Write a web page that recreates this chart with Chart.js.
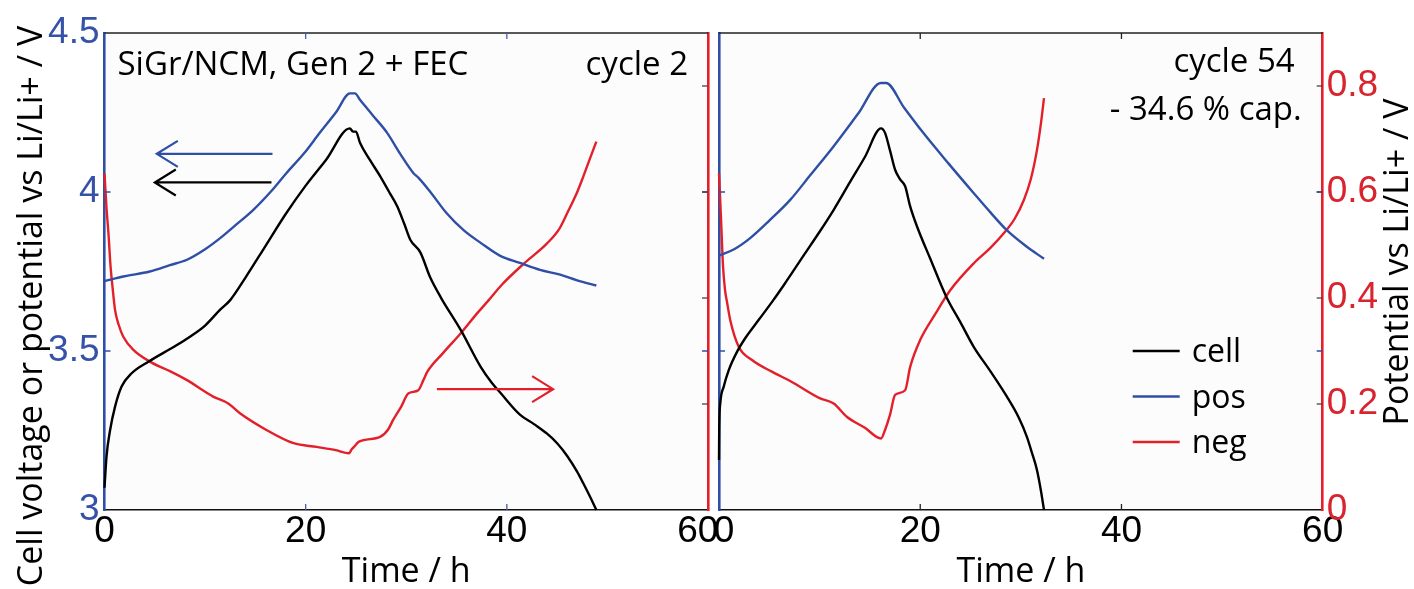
<!DOCTYPE html>
<html><head><meta charset="utf-8">
<script src="https://cdn.jsdelivr.net/npm/chart.js@4.4.1/dist/chart.umd.min.js"></script>
<style>
html,body{margin:0;padding:0;background:#fff;width:1414px;height:589px;overflow:hidden;}
#w{position:relative;width:1414px;height:589px;}
.p{position:absolute;top:0;height:589px;}
</style></head><body><div id="w">
<div class="p" style="left:0;width:740px"><canvas id="c1" width="740" height="589"></canvas></div>
<div class="p" style="left:690px;width:724px"><canvas id="c2" width="724" height="589"></canvas></div>
</div>
<script>
// ---- tick values and labels ----
const xTickValues = [0, 20, 40, 60];
const leftPanelXLabels = ['0', '20', '40', '60  '];
const rightPanelXLabels = [' 0', '20', '40', '60'];
const leftTickValues = [3, 3.5, 4, 4.5];
const leftTickLabels = ['3', '3.5', '4', '4.5'];
const rightTickValues = [0, 0.2, 0.4, 0.6, 0.8];
const rightTickLabels = ['0', '0.2', '0.4', '0.6', '0.8'];
const seriesNames = ['cell', 'pos', 'neg'];

// ---- cycle 2 (left panel) ----
const c2CellT = [0, 0.2, 0.55, 1.05, 1.7, 2.7, 4.4, 7, 8.5, 10, 11.5, 12.5, 14, 16, 18, 20, 22, 24.4, 24.7, 25, 25.4, 26.4, 27.4, 28.3, 29.1, 29.8, 30.4, 31.4, 32.4, 33.5, 35.4, 37.4, 38.5, 39.4, 41.3, 42.7, 44, 45, 46, 47, 47.6, 48.3, 48.9];
const c2CellV = [3.07, 3.168, 3.25, 3.325, 3.388, 3.43, 3.467, 3.515, 3.545, 3.58, 3.63, 3.66, 3.73, 3.83, 3.93, 4.02, 4.10, 4.20, 4.19, 4.19, 4.155, 4.10, 4.05, 4.0, 3.955, 3.90, 3.85, 3.81, 3.73, 3.665, 3.567, 3.45, 3.40, 3.367, 3.30, 3.27, 3.24, 3.21, 3.17, 3.12, 3.084, 3.04, 3.0];
const c2PosT = [0, 2, 4.5, 6.5, 8.2, 10, 11.5, 13, 14.8, 16.5, 18.1, 19.8, 21.4, 23, 24.4, 24.9, 25.4, 26.7, 28.1, 29.4, 30.7, 31.2, 32.4, 34, 35.7, 37.4, 39.3, 41.3, 43.3, 45.3, 47, 48.9];
const c2PosV = [3.72, 3.735, 3.75, 3.77, 3.787, 3.82, 3.855, 3.895, 3.944, 4.0, 4.06, 4.12, 4.186, 4.25, 4.31, 4.31, 4.29, 4.24, 4.186, 4.12, 4.06, 4.045, 4.0, 3.934, 3.88, 3.84, 3.80, 3.777, 3.755, 3.74, 3.722, 3.706];
const c2NegT = [0, 0.2, 0.4, 0.6, 0.8, 1.05, 1.4, 1.87, 2.87, 4.7, 6.5, 8.2, 10.8, 12.3, 13.5, 16.1, 18.8, 21.1, 23, 24.3, 24.6, 24.8, 25.3, 27.4, 28.2, 28.7, 29.5, 30.2, 31.2, 31.7, 32.1, 33.7, 35.4, 37, 38.2, 39.5, 41.7, 44, 45.2, 46, 47, 47.6, 48.3, 48.9];
const c2NegV = [0.635, 0.57, 0.52, 0.46, 0.42, 0.377, 0.35, 0.327, 0.302, 0.278, 0.262, 0.245, 0.214, 0.201, 0.182, 0.151, 0.126, 0.119, 0.113, 0.107, 0.115, 0.119, 0.129, 0.138, 0.152, 0.17, 0.195, 0.22, 0.226, 0.245, 0.261, 0.297, 0.333, 0.37, 0.396, 0.425, 0.465, 0.503, 0.53, 0.56, 0.60, 0.629, 0.665, 0.695];

// ---- cycle 54 (right panel) ----
const c54CellT = [0, 0.02, 0.13, 0.47, 0.97, 1.8, 2.6, 3.95, 5.4, 6.5, 8.4, 10, 11.4, 13, 14.5, 16.1, 16.5, 17, 17.5, 18, 18.5, 19, 19.7, 21, 22.6, 24, 25.3, 27, 28.6, 29.8, 30.6, 31.1, 31.6, 32, 32.3];
const c54CellV = [3.157, 3.25, 3.336, 3.388, 3.44, 3.498, 3.54, 3.598, 3.66, 3.71, 3.80, 3.875, 3.944, 4.03, 4.11, 4.20, 4.186, 4.13, 4.07, 4.04, 4.018, 3.955, 3.89, 3.79, 3.67, 3.59, 3.514, 3.435, 3.357, 3.29, 3.23, 3.18, 3.126, 3.06, 3.0];
const c54PosT = [0, 1.5, 3.1, 5, 7.1, 9, 11.4, 13.8, 16.1, 16.6, 18.4, 20.3, 22.8, 25.3, 27, 28.6, 30.5, 32.3];
const c54PosV = [3.80, 3.82, 3.855, 3.91, 3.976, 4.05, 4.144, 4.245, 4.343, 4.343, 4.265, 4.186, 4.09, 3.997, 3.935, 3.88, 3.83, 3.79];
const c54NegT = [0, 0.2, 0.4, 0.6, 0.8, 1.12, 1.96, 3.28, 5.25, 7.2, 10, 11.4, 12.7, 14.5, 16.1, 16.5, 17, 17.5, 18.5, 19, 20, 21.5, 23, 25.3, 27, 28.3, 29.4, 30.3, 31, 31.6, 32, 32.3];
const c54NegV = [0.635, 0.55, 0.46, 0.415, 0.392, 0.358, 0.308, 0.283, 0.261, 0.242, 0.211, 0.201, 0.176, 0.155, 0.135, 0.151, 0.18, 0.217, 0.226, 0.27, 0.321, 0.37, 0.415, 0.465, 0.495, 0.522, 0.55, 0.585, 0.625, 0.679, 0.73, 0.777];

const BLUE = '#2f4fa6', RED = '#e3202a', BLUE_TXT = '#3652a8', RED_TXT = '#d8242e';
const FONT_T = "'Liberation Sans', Arial, sans-serif";
const FONT_L = "'Open Sans', 'Noto Sans', sans-serif";
const COLORS = ['#000000', BLUE, RED];

function series(t, v) { return t.map((x, i) => ({x: x, y: v[i]})); }
function labelFrom(values, labels) {
  return v => { const i = values.indexOf(v); return i >= 0 ? labels[i] : String(v); };
}

function deco(cfg) {
  return {
    id: 'deco' + cfg.id,
    beforeDraw(chart) {
      const {ctx, chartArea: a} = chart;
      ctx.save(); ctx.fillStyle = '#fcfcfc';
      ctx.fillRect(a.left, a.top, a.right - a.left, a.bottom - a.top);
      ctx.restore();
    },
    afterDraw(chart) {
      const {ctx, chartArea: a} = chart;
      const xs = chart.scales.x, y = chart.scales.y, y2 = chart.scales.y2;
      const L = 6;
      ctx.save();
      ctx.strokeStyle = '#222'; ctx.lineWidth = 1.5;
      ctx.beginPath(); ctx.moveTo(a.left, a.top); ctx.lineTo(a.right, a.top); ctx.stroke();
      ctx.lineWidth = 1.3;
      ctx.strokeStyle = cfg.xTickColor;
      xs.ticks.forEach(t => {
        const p = xs.getPixelForValue(t.value);
        if (p <= a.left + 2 || p >= a.right - 2) return;
        ctx.beginPath(); ctx.moveTo(p, a.bottom); ctx.lineTo(p, a.bottom - L);
        ctx.moveTo(p, a.top); ctx.lineTo(p, a.top + L); ctx.stroke();
      });
      ctx.strokeStyle = BLUE;
      y.ticks.forEach(t => {
        const p = y.getPixelForValue(t.value);
        if (p <= a.top + 2 || p >= a.bottom - 2) return;
        ctx.beginPath(); ctx.moveTo(a.left, p); ctx.lineTo(a.left + L, p);
        ctx.moveTo(a.right, p); ctx.lineTo(a.right - L, p); ctx.stroke();
      });
      ctx.strokeStyle = '#444';
      y2.ticks.forEach(t => {
        const p = y2.getPixelForValue(t.value);
        if (p <= a.top + 2 || p >= a.bottom - 2) return;
        ctx.beginPath(); ctx.moveTo(a.right, p); ctx.lineTo(a.right - L, p); ctx.stroke();
      });
      ctx.lineWidth = 2.2; ctx.lineJoin = 'miter';
      (cfg.arrows || []).forEach(ar => {
        const sc = chart.scales[ar.axis];
        const x0 = xs.getPixelForValue(ar.from), x1 = xs.getPixelForValue(ar.to), py = sc.getPixelForValue(ar.y);
        const d = x1 < x0 ? 1 : -1;
        ctx.strokeStyle = ar.color;
        ctx.beginPath(); ctx.moveTo(x0, py); ctx.lineTo(x1, py);
        ctx.moveTo(x1 + d * 21, py - 13); ctx.lineTo(x1, py); ctx.lineTo(x1 + d * 21, py + 13);
        ctx.stroke();
      });
      ctx.fillStyle = '#000'; ctx.textBaseline = 'alphabetic';
      (cfg.texts || []).forEach(tx => {
        ctx.font = tx.size + 'px ' + FONT_L;
        ctx.textAlign = tx.align;
        const px = tx.align === 'left' ? a.left + tx.dx : a.right - tx.dx;
        ctx.fillText(tx.text, px, a.top + tx.dy);
      });
      if (cfg.legend) {
        ctx.font = '32px ' + FONT_L; ctx.textAlign = 'left';
        chart.data.datasets.forEach((ds, i) => {
          const yy = a.top + cfg.legend.dy + i * 45.5;
          ctx.strokeStyle = ds.borderColor; ctx.lineWidth = 2.5;
          ctx.beginPath(); ctx.moveTo(a.right - 190, yy); ctx.lineTo(a.right - 143, yy); ctx.stroke();
          ctx.fillStyle = '#000';
          ctx.fillText(ds.label, a.right - 131, yy + 11);
        });
      }
      if (cfg.yTitle) {
        ctx.font = '34px ' + FONT_L; ctx.fillStyle = '#000';
        ctx.textAlign = 'center'; ctx.textBaseline = 'alphabetic';
        ctx.translate(cfg.yTitle.x, cfg.yTitle.y); ctx.rotate(-Math.PI / 2);
        ctx.fillText(cfg.yTitle.text, 0, 0);
      }
      ctx.restore();
    }
  };
}

function makeChart(id, cfg) {
  const data = [
    series(cfg.cellT, cfg.cellV), series(cfg.posT, cfg.posV), series(cfg.negT, cfg.negV)
  ];
  const datasets = data.map((d, i) => ({
    label: seriesNames[i], data: d, borderColor: COLORS[i], backgroundColor: COLORS[i],
    yAxisID: i === 2 ? 'y2' : 'y', borderWidth: 2.4, pointRadius: 0, fill: false,
    cubicInterpolationMode: 'monotone', clip: 4, order: i
  }));
  return new Chart(document.getElementById(id), {
    type: 'line',
    data: {datasets},
    options: {
      responsive: false, animation: false, events: [],
      layout: {padding: {top: 33, left: 0, right: 0, bottom: 0}},
      plugins: {legend: {display: false}, tooltip: {enabled: false}},
      scales: {
        x: {
          type: 'linear', position: 'bottom', min: 0, max: 60,
          afterBuildTicks: s => { s.ticks = xTickValues.map(v => ({value: v})); },
          ticks: {font: {family: FONT_T, size: 37}, color: '#000', padding: 0, maxRotation: 0, autoSkip: false,
                  callback: labelFrom(xTickValues, cfg.xLabels)},
          grid: {display: false, drawTicks: false},
          border: {color: '#111', width: 1.5},
          title: {display: true, text: 'Time / h', color: '#000',
                  font: {family: FONT_L, size: 34, lineHeight: 1.0}, padding: {top: 0, bottom: 0}},
          afterFit: s => { s.height = 79; }
        },
        y: {
          type: 'linear', position: 'left', min: 3, max: 4.5,
          afterBuildTicks: s => { s.ticks = leftTickValues.map(v => ({value: v})); },
          ticks: {display: cfg.leftLabels, font: {family: FONT_T, size: 37}, color: BLUE_TXT, padding: 5,
                  callback: labelFrom(leftTickValues, leftTickLabels)},
          grid: {display: false, drawTicks: false},
          border: {color: BLUE, width: 2.6},
          afterFit: s => { s.width = cfg.leftW; }
        },
        y2: {
          type: 'linear', position: 'right', min: 0, max: 0.9,
          afterBuildTicks: s => { s.ticks = rightTickValues.map(v => ({value: v})); },
          ticks: {display: cfg.rightLabels, font: {family: FONT_T, size: 37}, color: RED_TXT, padding: 4,
                  callback: labelFrom(rightTickValues, rightTickLabels)},
          grid: {display: false, drawTicks: false},
          border: {color: RED, width: 2.6},
          afterFit: s => { s.width = cfg.rightW; }
        }
      }
    },
    plugins: [deco(cfg)]
  });
}

makeChart('c1', {
  id: 1, cellT: c2CellT, cellV: c2CellV, posT: c2PosT, posV: c2PosV, negT: c2NegT, negV: c2NegV,
  xLabels: leftPanelXLabels,
  leftLabels: true, rightLabels: false, leftW: 104.5, rightW: 32, xTickColor: '#4a5fa8',
  arrows: [
    {from: 16.7, to: 5.2, y: 4.12, axis: 'y', color: BLUE},
    {from: 16.6, to: 5.0, y: 4.03, axis: 'y', color: '#000'},
    {from: 33.05, to: 44.6, y: 0.228, axis: 'y2', color: RED}
  ],
  texts: [
    {text: 'SiGr/NCM, Gen 2 + FEC', align: 'left', dx: 13, dy: 42, size: 33},
    {text: 'cycle 2', align: 'right', dx: 20, dy: 42, size: 33}
  ],
  yTitle: {text: 'Cell voltage or potential vs Li/Li+ / V', x: 42, y: 306}
});

makeChart('c2', {
  id: 2, cellT: c54CellT, cellV: c54CellV, posT: c54PosT, posV: c54PosV, negT: c54NegT, negV: c54NegV,
  xLabels: rightPanelXLabels,
  leftLabels: false, rightLabels: true, leftW: 29, rightW: 91.3, xTickColor: '#222',
  texts: [
    {text: 'cycle 54', align: 'right', dx: 28, dy: 39, size: 33},
    {text: '- 34.6 % cap.', align: 'right', dx: 21, dy: 87, size: 33}
  ],
  legend: {dy: 318},
  yTitle: {text: 'Potential vs Li/Li+ / V', x: 718, y: 262}
});
</script>
</body></html>
